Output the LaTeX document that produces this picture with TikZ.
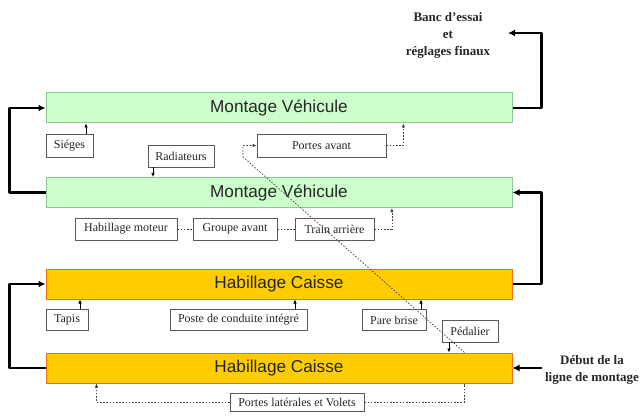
\documentclass[tikz,border=0pt]{standalone}
\usepackage{fontspec}
\setmainfont{Liberation Serif}
\setsansfont{Liberation Sans}
\usetikzlibrary{arrows.meta}
\definecolor{vfill}{HTML}{CCFFCC}
\definecolor{vdraw}{HTML}{8FC98F}
\definecolor{hfill}{HTML}{FFCC00}
\definecolor{hdraw}{HTML}{F07010}
\begin{document}
\begin{tikzpicture}[x=1pt,y=-1pt,
 bar/.style={minimum width=466pt, inner sep=0pt, font=\sffamily\fontsize{17.2}{19}\selectfont, text=black!85, line width=1pt},
 vbar/.style={bar, fill=vfill, draw=vdraw, minimum height=30pt},
 hbar/.style={bar, fill=hfill, draw=hdraw, minimum height=30pt},
 sbox/.style={draw=black!65, line width=0.7pt, fill=white, inner sep=0pt, text=black!85, font=\fontsize{12}{13}\selectfont},
 big/.style={line width=2.6pt, line join=round, -{Latex[length=7pt,width=7pt]}},
 sarrow/.style={line width=0.7pt, -{Latex[length=4pt,width=3.5pt]}},
 dotl/.style={line width=0.7pt, black!75, dash pattern=on 1.6pt off 1.6pt},
 dotarrow/.style={dotl, -{Latex[length=4pt,width=3.5pt]}},
 lbl/.style={font=\bfseries\fontsize{13}{17}\selectfont, text=black!85, align=center, inner sep=0pt}
]
\useasboundingbox (0,0) rectangle (641,420);
% bars
\node[vbar] (bar1) at (279,108) {Montage Véhicule};
\node[vbar] (bar2) at (279,192.5) {Montage Véhicule};
\node[hbar] (bar3) at (279,284) {Habillage Caisse};
\node[hbar] (bar4) at (279,368) {Habillage Caisse};
% small boxes
\node[sbox, minimum width=47pt, minimum height=23pt] (sieges) at (69.5,145.5) {Siéges};
\node[sbox, minimum width=66pt, minimum height=22pt] (rad) at (181,156) {Radiateurs};
\node[sbox, minimum width=129pt, minimum height=23pt] (pav) at (321.5,145.5) {Portes avant};
\node[sbox, minimum width=102pt, minimum height=22pt] (hm) at (126,229) {Habillage moteur};
\node[sbox, minimum width=84pt, minimum height=22pt] (ga) at (235,229) {Groupe avant};
\node[sbox, minimum width=79pt, minimum height=22pt] (tra) at (334.5,229) {Train arrière};
\node[sbox, minimum width=42pt, minimum height=21pt] (tapis) at (67,320) {Tapis};
\node[sbox, minimum width=137pt, minimum height=21pt] (poste) at (238.5,320) {Poste de conduite intégré};
\node[sbox, minimum width=64pt, minimum height=21pt] (pb) at (394,320) {Pare brise};
\node[sbox, minimum width=56pt, minimum height=22pt] (ped) at (470,331) {Pédalier};
\node[sbox, minimum width=134pt, minimum height=18pt] (lat) at (297,402) {Portes latérales et Volets};
% labels
\node[lbl] (banc) at (448,35) {Banc d’essai\\et\\réglages finaux};
\node[lbl] (debut) at (592,370) {Début de la\\ligne de montage};
\coordinate (bancin) at (508,33);
% big loops
\draw[big] (bar2.west) -- ++(-36,0) |- (bar1.west);
\draw[big] (bar4.west) -- ++(-36,0) |- (bar3.west);
\draw[big] (bar3.east) -- ++(29,0) |- (bar2.east);
\draw[big] (bar1.east) -- ++(29,0) |- (bancin);
\draw[big] ([xshift=29pt]bar4.east) -- (bar4.east);
% solid small arrows
\draw[sarrow] ([xshift=16.5pt]sieges.north) -- ([xshift=16.5pt]sieges.north |- bar1.south);
\draw[sarrow] ([xshift=-28pt]rad.south) -- ([xshift=-28pt]rad.south |- bar2.north);
\draw[sarrow] ([xshift=13pt]tapis.north) -- ([xshift=13pt]tapis.north |- bar3.south);
\draw[sarrow] ([xshift=56.5pt]poste.north) -- ([xshift=56.5pt]poste.north |- bar3.south);
\draw[sarrow] ([xshift=27pt]pb.north) -- ([xshift=27pt]pb.north |- bar3.south);
\draw[sarrow] ([xshift=-21pt]ped.south) -- ([xshift=-21pt]ped.south |- bar4.north);
% dotted connectors
\path (pav.east) ++(17,0) coordinate (pa1);
\draw[dotarrow] (pav.east) -- (pa1) -- (pa1 |- bar1.south);
\draw[dotl] (hm.east) -- (ga.west);
\draw[dotl] (ga.east) -- (tra.west);
\path (tra.east) ++(17.5,0) coordinate (ta1);
\draw[dotarrow] (tra.east) -- (ta1) -- (ta1 |- bar2.south);
\coordinate (dg0) at ([xshift=419pt]bar4.north west);
\coordinate (dg1) at (243,157);
\draw[dotarrow] (dg0) -- (dg1) |- (pav.west);
\draw[dotarrow] (lat.west) -| ([xshift=51pt]bar4.south west);
\draw[dotl] (lat.east) -| ([xshift=419pt]bar4.south west);
\end{tikzpicture}
\end{document}
